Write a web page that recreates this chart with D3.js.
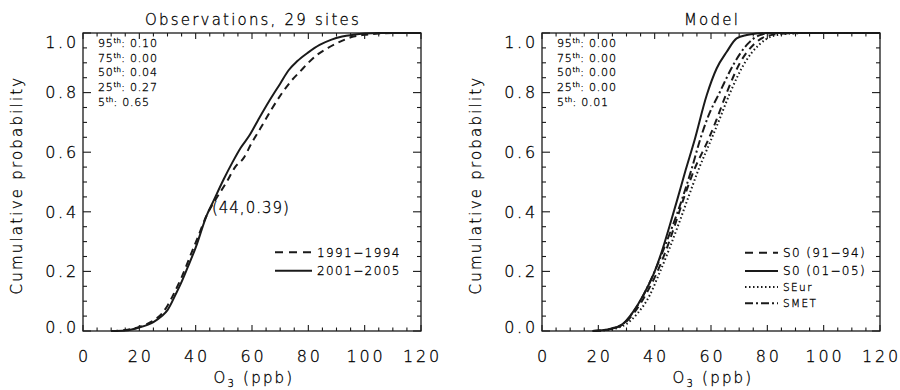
<!DOCTYPE html>
<html>
<head>
<meta charset="utf-8">
<script src="https://cdn.jsdelivr.net/npm/d3@7"></script>
<style>
  html, body { margin: 0; padding: 0; background: #fff; }
  svg { display: block; }
  text { font-family: "DejaVu Sans", sans-serif; font-weight: 200; fill: #000; stroke: #000; stroke-width: 0.3px; }
</style>
</head>
<body>
<svg id="chart" width="900" height="390"></svg>
<script>
// ---------------- DATA ----------------
const xTicks = [0, 20, 40, 60, 80, 100, 120];
const yTicks = [0.0, 0.2, 0.4, 0.6, 0.8, 1.0];
const panelTitles = ["Observations, 29 sites", "Model"];

// Observations (left panel)
const obs9194_o3 = [10, 15, 20, 25, 28, 30, 32.5, 35, 38, 41, 44, 47, 51, 54, 57, 60, 63, 67, 71, 74, 77, 80, 83, 87, 90, 93, 96, 100, 105, 110, 120];
const obs9194_p  = [0, 0.003, 0.014, 0.035, 0.058, 0.085, 0.13, 0.18, 0.25, 0.32, 0.39, 0.44, 0.50, 0.55, 0.58, 0.633, 0.68, 0.745, 0.803, 0.84, 0.87, 0.90, 0.926, 0.95, 0.965, 0.978, 0.988, 0.994, 0.998, 1.0, 1.0];
const obs0105_o3 = [10, 15, 20, 25, 28, 30, 33, 35, 37, 40, 44, 46, 50, 53, 56, 59, 62, 66, 70, 73, 76, 80, 84, 88, 92, 96, 100, 105, 120];
const obs0105_p  = [0, 0.002, 0.012, 0.03, 0.05, 0.07, 0.125, 0.165, 0.21, 0.28, 0.39, 0.43, 0.51, 0.565, 0.615, 0.655, 0.705, 0.77, 0.83, 0.875, 0.905, 0.935, 0.96, 0.977, 0.988, 0.994, 0.998, 1.0, 1.0];

// Model (right panel)
const s09194_o3 = [18, 22, 25, 29, 33, 37, 40.5, 44, 47.2, 50.5, 54, 59, 62, 65.6, 70.3, 75, 80, 86, 92, 120];
const s09194_p  = [0, 0.003, 0.008, 0.024, 0.065, 0.125, 0.19, 0.27, 0.356, 0.45, 0.54, 0.641, 0.71, 0.80, 0.90, 0.96, 0.99, 0.998, 1.0, 1.0];
const s00105_o3 = [18, 22, 24, 27, 29, 32.4, 36, 39.5, 42.5, 45.4, 48, 51, 54, 58.5, 62, 65.6, 69.1, 72.7, 76, 80, 120];
const s00105_p  = [0, 0.003, 0.006, 0.015, 0.026, 0.065, 0.121, 0.188, 0.266, 0.356, 0.44, 0.54, 0.635, 0.792, 0.881, 0.937, 0.982, 0.993, 0.998, 1.0, 1.0];
const seur_o3   = [19, 23, 26, 30, 34, 38.3, 41.5, 44.8, 48.4, 52, 55.5, 60, 63, 66.8, 72, 77, 82, 88, 95, 120];
const seur_p    = [0, 0.003, 0.008, 0.024, 0.06, 0.121, 0.19, 0.266, 0.356, 0.45, 0.54, 0.641, 0.71, 0.80, 0.90, 0.96, 0.99, 0.998, 1.0, 1.0];
const smet_o3   = [18, 22, 25, 29, 32.5, 36, 40, 43, 46.5, 50, 53, 56.1, 59, 63.2, 67.9, 72.7, 77.4, 82, 120];
const smet_p    = [0, 0.003, 0.009, 0.026, 0.065, 0.12, 0.20, 0.27, 0.356, 0.45, 0.54, 0.641, 0.72, 0.803, 0.893, 0.96, 0.993, 1.0, 1.0];

const obsLegend   = ["1991\u22121994", "2001\u22122005"];
const modelLegend = ["S0 (91\u221294)", "S0 (01\u221205)", "SEur", "SMET"];

const pctLabels      = ["95", "75", "50", "25", "5"];
const obsPctValues   = ["0.10", "0.00", "0.04", "0.27", "0.65"];
const modelPctValues = ["0.00", "0.00", "0.00", "0.00", "0.01"];

const annotX = 44, annotY = 0.39;

// ---------------- DRAWING ----------------
const svg = d3.select("#chart");
const plotTop = 33, plotBottom = 331;
const INK = "#1a1a1a";

const styles = {
  solid:   null,
  dashed:  "7,5",
  dotted:  "1.5,2.5",
  dashdot: "8,3,2,3"
};

const panels = [
  {
    x0: 83, x1: 421, title: panelTitles[0], pct: obsPctValues,
    series: [
      { o3: obs9194_o3, p: obs9194_p, style: "dashed", label: obsLegend[0] },
      { o3: obs0105_o3, p: obs0105_p, style: "solid",  label: obsLegend[1] }
    ],
    legendSize: [12, 12],
    annot: true
  },
  {
    x0: 542, x1: 880, title: panelTitles[1], pct: modelPctValues,
    series: [
      { o3: s09194_o3, p: s09194_p, style: "dashed",  label: modelLegend[0] },
      { o3: s00105_o3, p: s00105_p, style: "solid",   label: modelLegend[1] },
      { o3: seur_o3,   p: seur_p,   style: "dotted",  label: modelLegend[2] },
      { o3: smet_o3,   p: smet_p,   style: "dashdot", label: modelLegend[3] }
    ],
    legendSize: [12, 12, 10.5, 10.5],
    annot: false
  }
];

panels.forEach((P, pi) => {
  const x = d3.scaleLinear().domain([0, 120]).range([P.x0, P.x1]);
  const y = d3.scaleLinear().domain([0, 1]).range([plotBottom, plotTop]);
  const g = svg.append("g");

  // curves
  const line = d3.line().x(d => x(d[0])).y(d => y(d[1])).curve(d3.curveMonotoneX);
  P.series.forEach(s => {
    const pts = s.o3.map((v, i) => [v, s.p[i]]);
    g.append("path")
      .attr("d", line(pts))
      .attr("fill", "none")
      .attr("stroke", INK)
      .attr("stroke-width", 2)
      .attr("stroke-dasharray", styles[s.style]);
  });

  // frame
  g.append("rect")
    .attr("x", P.x0).attr("y", plotTop)
    .attr("width", P.x1 - P.x0).attr("height", plotBottom - plotTop)
    .attr("fill", "none").attr("stroke", INK).attr("stroke-width", 1.3);

  // x ticks (bottom & top, inward) major + minor
  const xMinor = d3.range(0, 120.001, 5);
  xMinor.forEach(v => {
    const major = Math.abs(v % 20) < 1e-6;
    const len = major ? 6 : 3.5;
    g.append("line").attr("x1", x(v)).attr("x2", x(v)).attr("y1", plotBottom).attr("y2", plotBottom - len)
      .attr("stroke", INK).attr("stroke-width", 1.1);
    g.append("line").attr("x1", x(v)).attr("x2", x(v)).attr("y1", plotTop).attr("y2", plotTop + len)
      .attr("stroke", INK).attr("stroke-width", 1.1);
  });
  // y ticks
  const yMinor = d3.range(0, 1.0001, 0.05);
  yMinor.forEach(v => {
    const major = Math.abs(Math.round(v * 100) % 20) < 1e-6;
    const len = major ? 8 : 4;
    g.append("line").attr("y1", y(v)).attr("y2", y(v)).attr("x1", P.x0).attr("x2", P.x0 + len)
      .attr("stroke", INK).attr("stroke-width", 1.1);
    g.append("line").attr("y1", y(v)).attr("y2", y(v)).attr("x1", P.x1).attr("x2", P.x1 - len)
      .attr("stroke", INK).attr("stroke-width", 1.1);
  });

  // x tick labels
  xTicks.forEach(v => {
    g.append("text")
      .attr("x", x(v) + 1.4).attr("y", 361.5)
      .attr("text-anchor", "middle")
      .style("font-size", "16px").style("letter-spacing", "2.8px")
      .text(d3.format("d")(v));
  });
  // y tick labels
  yTicks.forEach(v => {
    const cy = Math.min(Math.max(y(v), plotTop + 9), plotBottom - 4);
    g.append("text")
      .attr("x", P.x0 - 4).attr("y", cy + 5.8)
      .attr("text-anchor", "end")
      .style("font-size", "16px").style("letter-spacing", "2.8px")
      .text(d3.format(".1f")(v));
  });

  // title
  g.append("text")
    .attr("x", (P.x0 + P.x1) / 2 + 1).attr("y", 25)
    .attr("text-anchor", "middle")
    .style("font-size", "15px").style("letter-spacing", "2.2px")
    .text(P.title);

  // y axis title
  const yc = (plotTop + plotBottom) / 2 + 3;
  const ylx = P.x0 - 61;
  g.append("text")
    .attr("transform", `translate(${ylx},${yc}) rotate(-90)`)
    .attr("text-anchor", "middle")
    .style("font-size", "15px").style("letter-spacing", "2.2px")
    .text("Cumulative probability");

  // x axis title  O3 (ppb)
  const xt = g.append("text")
    .attr("x", (P.x0 + P.x1) / 2 + 2).attr("y", 383)
    .attr("text-anchor", "middle")
    .style("font-size", "15px").style("letter-spacing", "2.2px");
  xt.append("tspan").text("O");
  xt.append("tspan").attr("dy", 4).style("font-size", "10px").text("3");
  xt.append("tspan").attr("dy", -4).text(" (ppb)");

  // percentile text block
  pctLabels.forEach((lab, i) => {
    const t = g.append("text")
      .attr("x", P.x0 + 15).attr("y", 47 + i * 14.7)
      .style("font-size", "11px").style("letter-spacing", "0.8px");
    t.append("tspan").text(lab);
    t.append("tspan").attr("dy", -4).style("font-size", "7px").style("letter-spacing", "0.2px").text("th");
    t.append("tspan").attr("dy", 4).text(": " + P.pct[i]);
  });

  // legend
  const lx0 = pi === 0 ? 275 : 745;
  const lx1 = pi === 0 ? 312 : 778;
  const rowsY = pi === 0 ? [252.3, 270.7] : [252.7, 271, 287, 303.3];
  P.series.forEach((s, i) => {
    g.append("line")
      .attr("x1", lx0).attr("x2", lx1).attr("y1", rowsY[i]).attr("y2", rowsY[i])
      .attr("stroke", INK).attr("stroke-width", 2)
      .attr("stroke-dasharray", s.style === "dashed" ? "8,6" : styles[s.style]);
    g.append("text")
      .attr("x", lx1 + 5).attr("y", rowsY[i] + P.legendSize[i] * 0.36)
      .style("font-size", P.legendSize[i] + "px").style("letter-spacing", "1.4px")
      .text(s.label);
  });

  // annotation
  if (P.annot) {
    g.append("text")
      .attr("x", x(annotX) + 5).attr("y", y(annotY) - 7 + 5.4)
      .style("font-size", "15px").style("letter-spacing", "1px")
      .text(`(${annotX},${annotY})`);
  }
});
</script>
</body>
</html>
